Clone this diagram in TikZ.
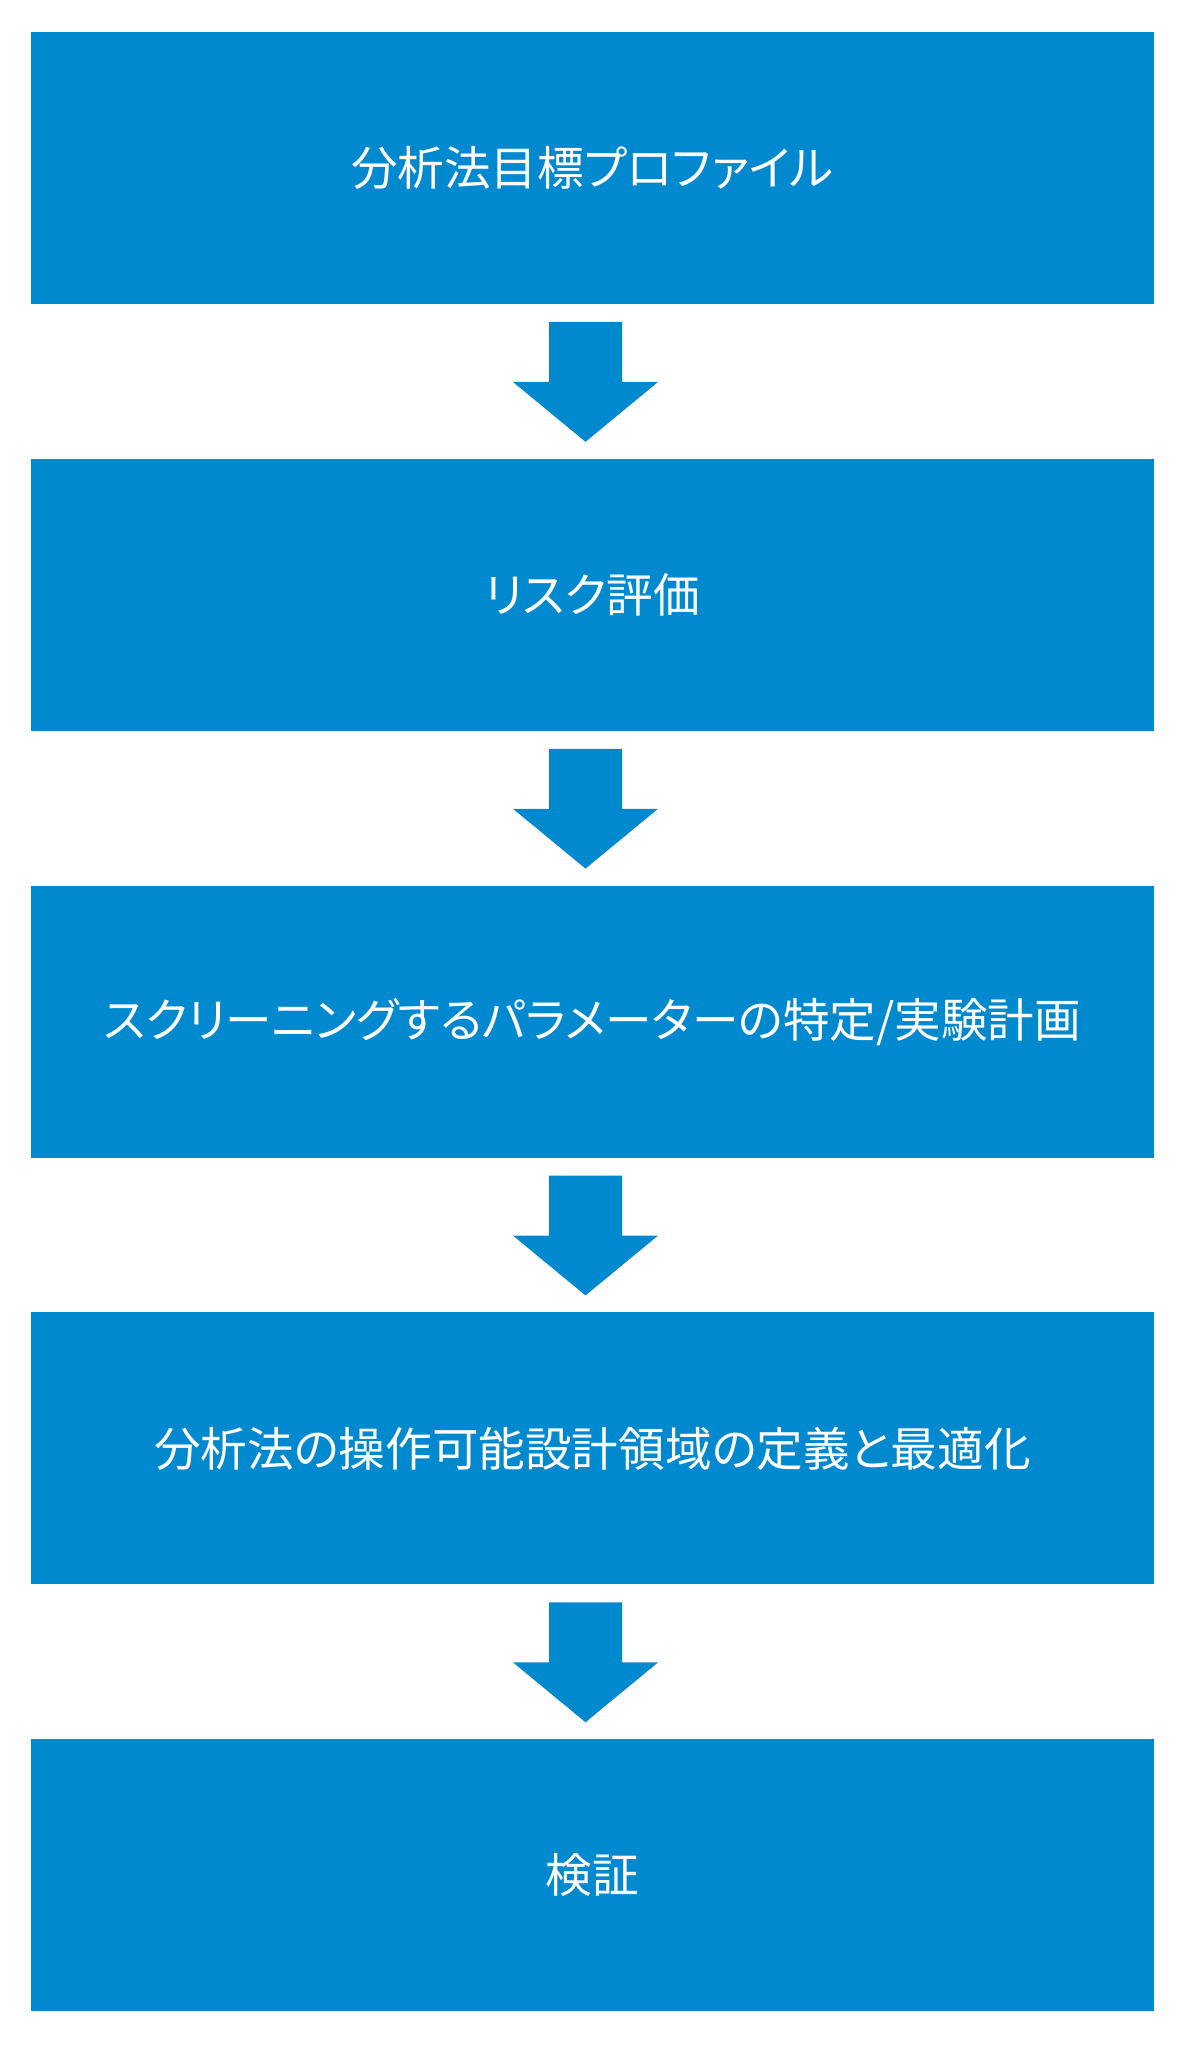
\documentclass[tikz,border=0pt]{standalone}
\usepackage{fontspec}
\newfontfamily\jpfont[RawFeature=+palt]{Noto Sans CJK JP}
\usetikzlibrary{positioning,calc}
\definecolor{qbdblue}{RGB}{0,137,207}

\begin{document}
\begin{tikzpicture}[x=0.5pt,y=0.5pt,
  node distance=77.4pt,
  stepbox/.style={fill=qbdblue, minimum width=561.5pt, minimum height=136pt,
    inner sep=0pt, outer sep=0pt, text=white,
    font=\jpfont\fontsize{23.3pt}{28pt}\selectfont}]
  \useasboundingbox (0,0) rectangle (1186,-2048);
  \node[stepbox] (target) at (592.5,-168) {分析法目標プロファイル};
  \node[stepbox, below=of target] (risk) {リスク評価};
  \node[stepbox, below=of risk] (screen) {スクリーニングするパラメーターの特定/実験計画};
  \node[stepbox, below=of screen] (design) {分析法の操作可能設計領域の定義と最適化};
  \node[stepbox, below=of design] (verify) {検証};
  \foreach \a/\b in {target/risk, risk/screen, screen/design, design/verify}
    \fill[qbdblue] ($(\a.south)+(-43.5,-18)$) -- ++(73,0) -- ++(0,-60) -- ++(36,0)
      -- ($(\b.north)+(-7,17)$) -- ($(\a.south)+(-79.5,-78)$) -- ++(36,0) -- cycle;
\end{tikzpicture}
\end{document}
